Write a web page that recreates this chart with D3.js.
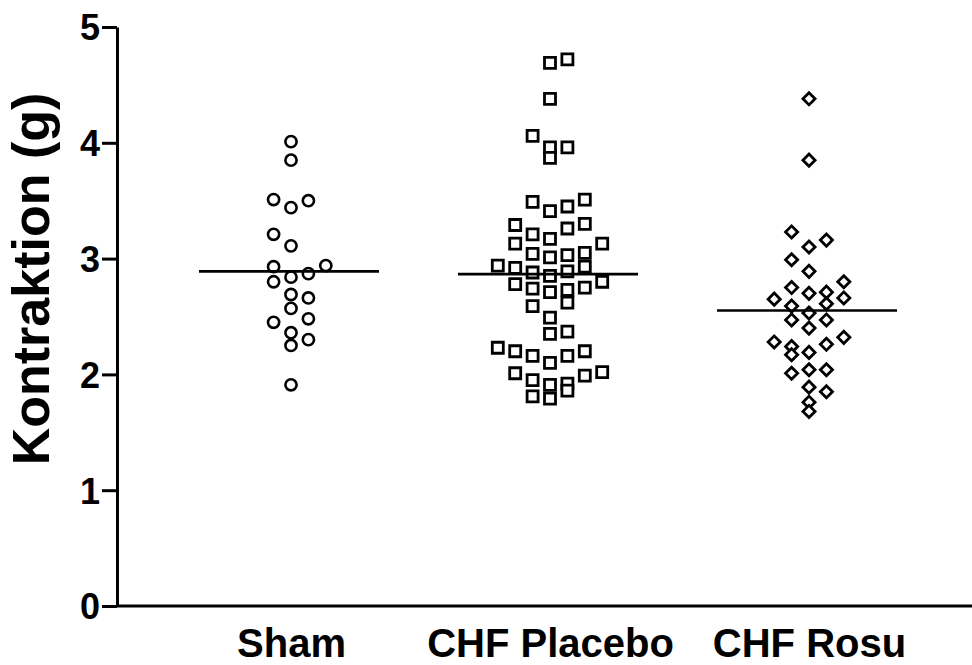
<!DOCTYPE html>
<html><head><meta charset="utf-8">
<script src="https://cdn.jsdelivr.net/npm/d3@7"></script>
<style>body{margin:0;background:#fff} svg{display:block}</style>
</head><body>
<svg id="chart" width="972" height="665"></svg>
<script>
const categories = ["Sham", "CHF Placebo", "CHF Rosu"];
const shamValues = [4.01, 3.85, 3.51, 3.50, 3.44, 3.21, 3.11, 2.94, 2.93, 2.87, 2.84, 2.80, 2.69, 2.66, 2.57, 2.48, 2.45, 2.36, 2.30, 2.25, 1.91];
const placeboValues = [4.72, 4.69, 4.38, 4.06, 3.96, 3.96, 3.87, 3.51, 3.49, 3.45, 3.41, 3.30, 3.29, 3.26, 3.21, 3.17, 3.13, 3.13, 3.05, 3.04, 3.03, 3.01, 2.94, 2.93, 2.92, 2.89, 2.88, 2.85, 2.80, 2.78, 2.75, 2.74, 2.73, 2.71, 2.62, 2.59, 2.49, 2.37, 2.35, 2.23, 2.20, 2.20, 2.16, 2.16, 2.10, 2.02, 2.01, 1.99, 1.95, 1.92, 1.91, 1.86, 1.81, 1.79];
const rosuValues = [4.38, 3.85, 3.23, 3.16, 3.10, 2.99, 2.89, 2.80, 2.75, 2.71, 2.70, 2.66, 2.65, 2.61, 2.59, 2.53, 2.47, 2.47, 2.40, 2.32, 2.28, 2.26, 2.24, 2.19, 2.17, 2.04, 2.04, 2.01, 1.89, 1.85, 1.76, 1.68];
const yTicks = [0, 1, 2, 3, 4, 5];
const yTitle = "Kontraktion (g)";
const groupValues = [shamValues, placeboValues, rosuValues];
const symbolTypes = ["circle", "square", "diamond"];

const font = "'Liberation Sans', Arial, Helvetica, sans-serif";
const svg = d3.select("#chart");
const y = d3.scaleLinear().domain([0, 5]).range([606, 27]);
const x = d3.scalePoint().domain(categories).range([291, 809]);
const colStep = 17.4;

// Prism-like column scatter: rows of near-equal values spread side by side
function swarm(values, rowSpan) {
  const pts = values.map(v => ({v})).sort((a, b) => b.v - a.v);
  const rows = [];
  let cur = null;
  pts.forEach(p => {
    if (!cur || y(p.v) - y(cur[0].v) > rowSpan) { cur = [p]; rows.push(cur); }
    else cur.push(p);
  });
  rows.forEach((row, ri) => {
    const s = ri % 2 === 0 ? 1 : -1;
    row.sort((a, b) => a.v - b.v);
    row.forEach((p, i) => {
      const k = Math.ceil(i / 2);
      p.col = i === 0 ? 0 : (i % 2 === 1 ? s : -s) * k;
    });
  });
  return pts;
}

// axes
const yAxis = d3.axisLeft(y).tickValues(yTicks).tickFormat(d3.format("d"))
  .tickSize(15).tickSizeOuter(0).tickPadding(2);
const gy = svg.append("g").attr("transform", "translate(117,0)").call(yAxis);
gy.select(".domain").attr("stroke", "#000").attr("stroke-width", 3);
gy.selectAll(".tick line").attr("stroke", "#000").attr("stroke-width", 3);
gy.selectAll(".tick text").attr("font-family", font).attr("font-weight", "bold")
  .attr("font-size", 36).attr("fill", "#000").attr("dy", "0.36em");

const xAxis = d3.axisBottom(x).tickSize(0).tickSizeOuter(0).tickPadding(23);
const gx = svg.append("g").attr("transform", "translate(0,606)").call(xAxis);
gx.select(".domain").attr("d", "M117,0H972").attr("stroke", "#000").attr("stroke-width", 3);
gx.selectAll(".tick text").attr("font-family", font).attr("font-weight", "bold")
  .attr("font-size", 40).attr("fill", "#000");

svg.append("text")
  .attr("transform", "translate(49,279) rotate(-90)")
  .attr("text-anchor", "middle")
  .attr("font-family", font).attr("font-weight", "bold").attr("font-size", 52)
  .attr("fill", "#000")
  .text(yTitle);

// points
const symbolGen = {
  circle: d3.symbol().type(d3.symbolCircle).size(Math.PI * 5.6 * 5.6),
  square: d3.symbol().type(d3.symbolSquare).size(11 * 11),
  diamond: d3.symbol().type(d3.symbolSquare).size(8.6 * 8.6)
};

categories.forEach((cat, gi) => {
  const pts = swarm(groupValues[gi], 15.5);
  const g = svg.append("g");
  g.selectAll("path.pt").data(pts).join("path")
    .attr("class", "pt")
    .attr("d", symbolGen[symbolTypes[gi]]())
    .attr("transform", d => `translate(${x(cat) + d.col * colStep},${y(d.v)})` + (symbolTypes[gi] === "diamond" ? " rotate(45)" : ""))
    .attr("fill", "#fff").attr("stroke", "#000")
    .attr("stroke-width", symbolTypes[gi] === "circle" ? 2.6 : 2.8);
  const m = d3.mean(groupValues[gi]);
  g.append("line")
    .attr("x1", x(cat) - 92).attr("x2", x(cat) + 88)
    .attr("y1", y(m)).attr("y2", y(m))
    .attr("stroke", "#000").attr("stroke-width", 2.6);
});
</script>
</body></html>
